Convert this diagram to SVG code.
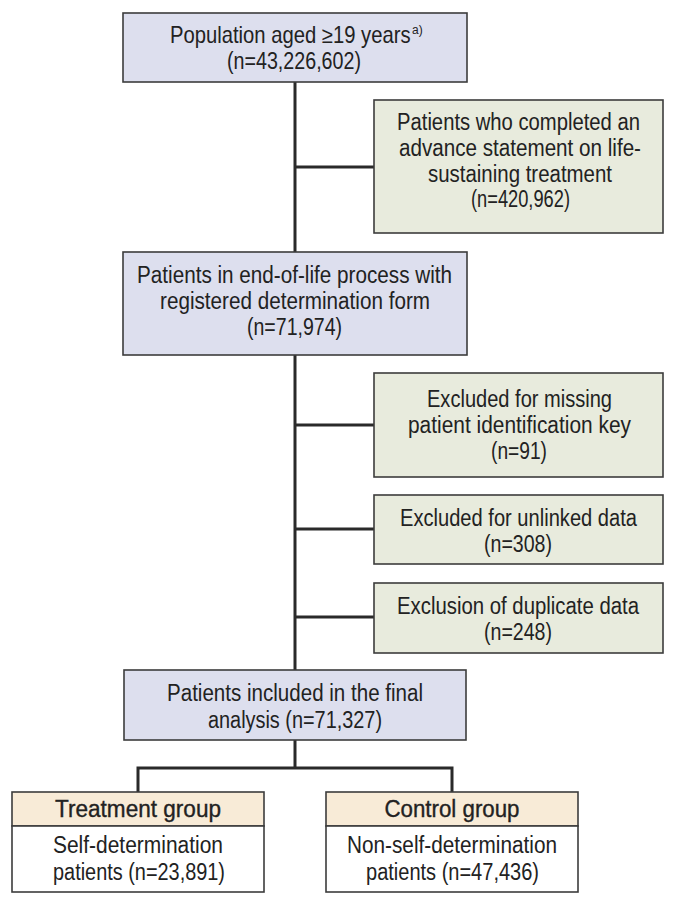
<svg xmlns="http://www.w3.org/2000/svg" width="676" height="905" viewBox="0 0 676 905">
<style>
.bg{fill:#ffffff}
.main{fill:#dddfee;stroke:#3c3c3c;stroke-width:1.6}
.excl{fill:#e8ebdd;stroke:#3c3c3c;stroke-width:1.6}
.head{fill:#f8ebd7;stroke:#3c3c3c;stroke-width:1.6}
.body{fill:#ffffff;stroke:#3c3c3c;stroke-width:1.6}
.conn{fill:none;stroke:#2a2a2a;stroke-width:3}
text{font-family:"Liberation Sans",Arial,sans-serif;font-size:23px;fill:#222222}
.c{text-anchor:middle}
.b{stroke:#222222;stroke-width:0.35}
.sup{font-size:12px}
</style>
<rect class="bg" x="0" y="0" width="676" height="905"/>
<g id="connectors">
<path class="conn" d="M295 82 V670"/>
<path class="conn" d="M295 167 H374"/>
<path class="conn" d="M295 425 H374"/>
<path class="conn" d="M295 529 H374"/>
<path class="conn" d="M295 617 H374"/>
<path class="conn" d="M295 740 V768 M138 792 V768 H452 V792"/>
</g>
<g id="population">
<rect class="main" x="123" y="13" width="344" height="69"/>
<text transform="translate(170,43) scale(0.88,1)" x="0" y="0">Population aged ≥19 years</text>
<text class="sup" x="412" y="34">a)</text>
<text class="c" x="294" y="69" textLength="134" lengthAdjust="spacingAndGlyphs">(n=43,226,602)</text>
</g>
<g id="advance">
<rect class="excl" x="374" y="100" width="289" height="133"/>
<text class="c" x="518.5" y="130" textLength="243" lengthAdjust="spacingAndGlyphs">Patients who completed an</text>
<text class="c" x="520" y="156" textLength="242" lengthAdjust="spacingAndGlyphs">advance statement on life-</text>
<text class="c" x="520" y="182" textLength="184" lengthAdjust="spacingAndGlyphs">sustaining treatment</text>
<text class="c" x="520.5" y="207" textLength="99" lengthAdjust="spacingAndGlyphs">(n=420,962)</text>
</g>
<g id="endoflife">
<rect class="main" x="123" y="252" width="344" height="103"/>
<text class="c" x="294.5" y="283" textLength="315" lengthAdjust="spacingAndGlyphs">Patients in end-of-life process with</text>
<text class="c" x="295" y="309" textLength="270" lengthAdjust="spacingAndGlyphs">registered determination form</text>
<text class="c" x="294.5" y="335" textLength="95" lengthAdjust="spacingAndGlyphs">(n=71,974)</text>
</g>
<g id="missingkey">
<rect class="excl" x="374" y="373" width="289" height="104"/>
<text class="c" x="519.5" y="407" textLength="185" lengthAdjust="spacingAndGlyphs">Excluded for missing</text>
<text class="c" x="519.5" y="433" textLength="223" lengthAdjust="spacingAndGlyphs">patient identification key</text>
<text class="c" x="519" y="459" textLength="56" lengthAdjust="spacingAndGlyphs">(n=91)</text>
</g>
<g id="unlinked">
<rect class="excl" x="374" y="495" width="289" height="69"/>
<text class="c" x="518.5" y="526" textLength="237" lengthAdjust="spacingAndGlyphs">Excluded for unlinked data</text>
<text class="c" x="518" y="552" textLength="68" lengthAdjust="spacingAndGlyphs">(n=308)</text>
</g>
<g id="duplicate">
<rect class="excl" x="374" y="583" width="289" height="70"/>
<text class="c" x="518" y="614" textLength="242" lengthAdjust="spacingAndGlyphs">Exclusion of duplicate data</text>
<text class="c" x="518" y="640" textLength="68" lengthAdjust="spacingAndGlyphs">(n=248)</text>
</g>
<g id="final">
<rect class="main" x="124" y="670" width="342" height="70"/>
<text class="c" x="295" y="701" textLength="256" lengthAdjust="spacingAndGlyphs">Patients included in the final</text>
<text class="c" x="295" y="728" textLength="174" lengthAdjust="spacingAndGlyphs">analysis (n=71,327)</text>
</g>
<g id="treatment">
<rect class="head" x="12" y="792" width="252" height="34"/>
<rect class="body" x="12" y="826" width="252" height="66"/>
<text class="c b" x="138" y="817" textLength="166" lengthAdjust="spacingAndGlyphs">Treatment group</text>
<text class="c" x="138" y="853" textLength="170" lengthAdjust="spacingAndGlyphs">Self-determination</text>
<text class="c" x="139" y="880" textLength="172" lengthAdjust="spacingAndGlyphs">patients (n=23,891)</text>
</g>
<g id="control">
<rect class="head" x="326" y="792" width="252" height="34"/>
<rect class="body" x="326" y="826" width="252" height="66"/>
<text class="c b" x="452" y="817" textLength="135" lengthAdjust="spacingAndGlyphs">Control group</text>
<text class="c" x="452" y="853" textLength="210" lengthAdjust="spacingAndGlyphs">Non-self-determination</text>
<text class="c" x="452.5" y="880" textLength="173" lengthAdjust="spacingAndGlyphs">patients (n=47,436)</text>
</g>
</svg>
